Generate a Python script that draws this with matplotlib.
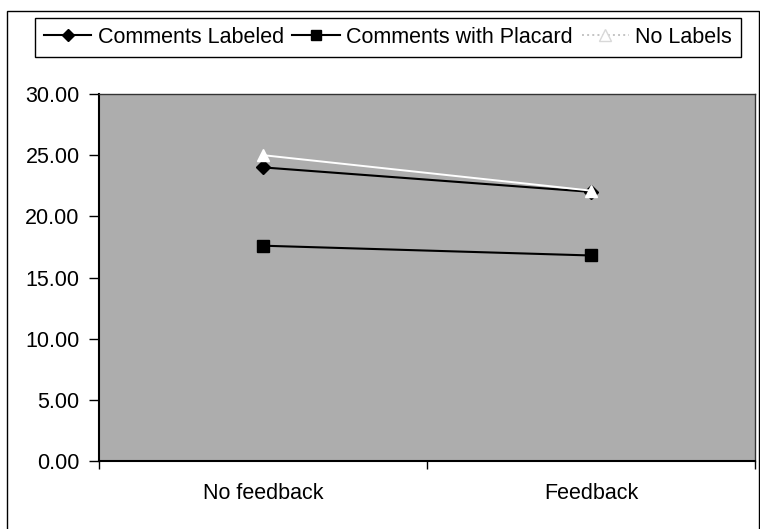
import matplotlib
matplotlib.use("Agg")
import matplotlib.pyplot as plt
from matplotlib.patches import Rectangle
from matplotlib.ticker import FormatStrFormatter

plt.rcParams['font.family'] = ['Liberation Sans', 'DejaVu Sans']

# data
categories = ["No feedback", "Feedback"]
comments_labeled = [24.0, 22.0]
comments_placard = [17.6, 16.8]
no_labels = [25.0, 22.1]
yticks = [0, 5, 10, 15, 20, 25, 30]

W, H = 760, 529
fig = plt.figure(figsize=(W / 100, H / 100), dpi=100)

# outer chart border (bottom falls off the picture)
fig.patches.append(Rectangle((7 / W, -0.1), (759 - 7) / W, 1 - 11 / H + 0.1,
                             transform=fig.transFigure, fill=False,
                             edgecolor='black', linewidth=1))

ax = fig.add_axes([99 / W, 1 - 461 / H, 656 / W, 367 / H])
ax.set_facecolor('#adadad')

x = list(range(len(categories)))
ax.plot(x, no_labels, color='white', linewidth=1.4, marker='^',
        markersize=9, markerfacecolor='white', markeredgecolor='white',
        label='No Labels', zorder=4)
ax.plot(x, comments_labeled, color='black', linewidth=1.5, marker='D',
        markersize=7, label='Comments Labeled', zorder=3)
ax.plot(x, comments_placard, color='black', linewidth=1.5, marker='s',
        markersize=8, label='Comments with Placard', zorder=3)

ax.set_xlim(-0.5, len(categories) - 0.5)
ax.set_ylim(0, 30)
ax.set_yticks(yticks)
ax.yaxis.set_major_formatter(FormatStrFormatter('%.2f'))
ax.tick_params(axis='y', direction='out', length=7, width=1, pad=7,
               labelsize=15.5, colors='black')

ax.set_xticks(x)
ax.set_xticklabels(categories)
ax.set_xticks([i - 0.5 for i in range(len(categories) + 1)], minor=True)
ax.tick_params(axis='x', which='major', length=0, pad=16, labelsize=15.5)
ax.tick_params(axis='x', which='minor', direction='out', length=6, width=1)

for side in ['left', 'bottom']:
    ax.spines[side].set_linewidth(1.5)
for side in ['top', 'right']:
    ax.spines[side].set_linewidth(1)
    ax.spines[side].set_color('#333333')

handles, labels = ax.get_legend_handles_labels()
order = [1, 2, 0]
leg = fig.legend([handles[i] for i in order], [labels[i] for i in order],
                 loc='center', bbox_to_anchor=(388 / W, 1 - 37.5 / H),
                 ncol=3, fontsize=15.5, frameon=True, fancybox=False,
                 edgecolor='black', framealpha=1, handlelength=2.2,
                 handletextpad=0.3, columnspacing=0.4, borderpad=0.4,
                 borderaxespad=0)
leg.get_frame().set_linewidth(1)
leg_lines = leg.get_lines()
leg_lines[0].set_markersize(6)
leg_lines[1].set_markersize(7)
leg_lines[2].set_color('#c4c4c4')
leg_lines[2].set_linestyle(':')
leg_lines[2].set_markeredgecolor('#d8d8d8')
leg_lines[2].set_markerfacecolor('white')

fig.savefig('out.png', dpi=100)
